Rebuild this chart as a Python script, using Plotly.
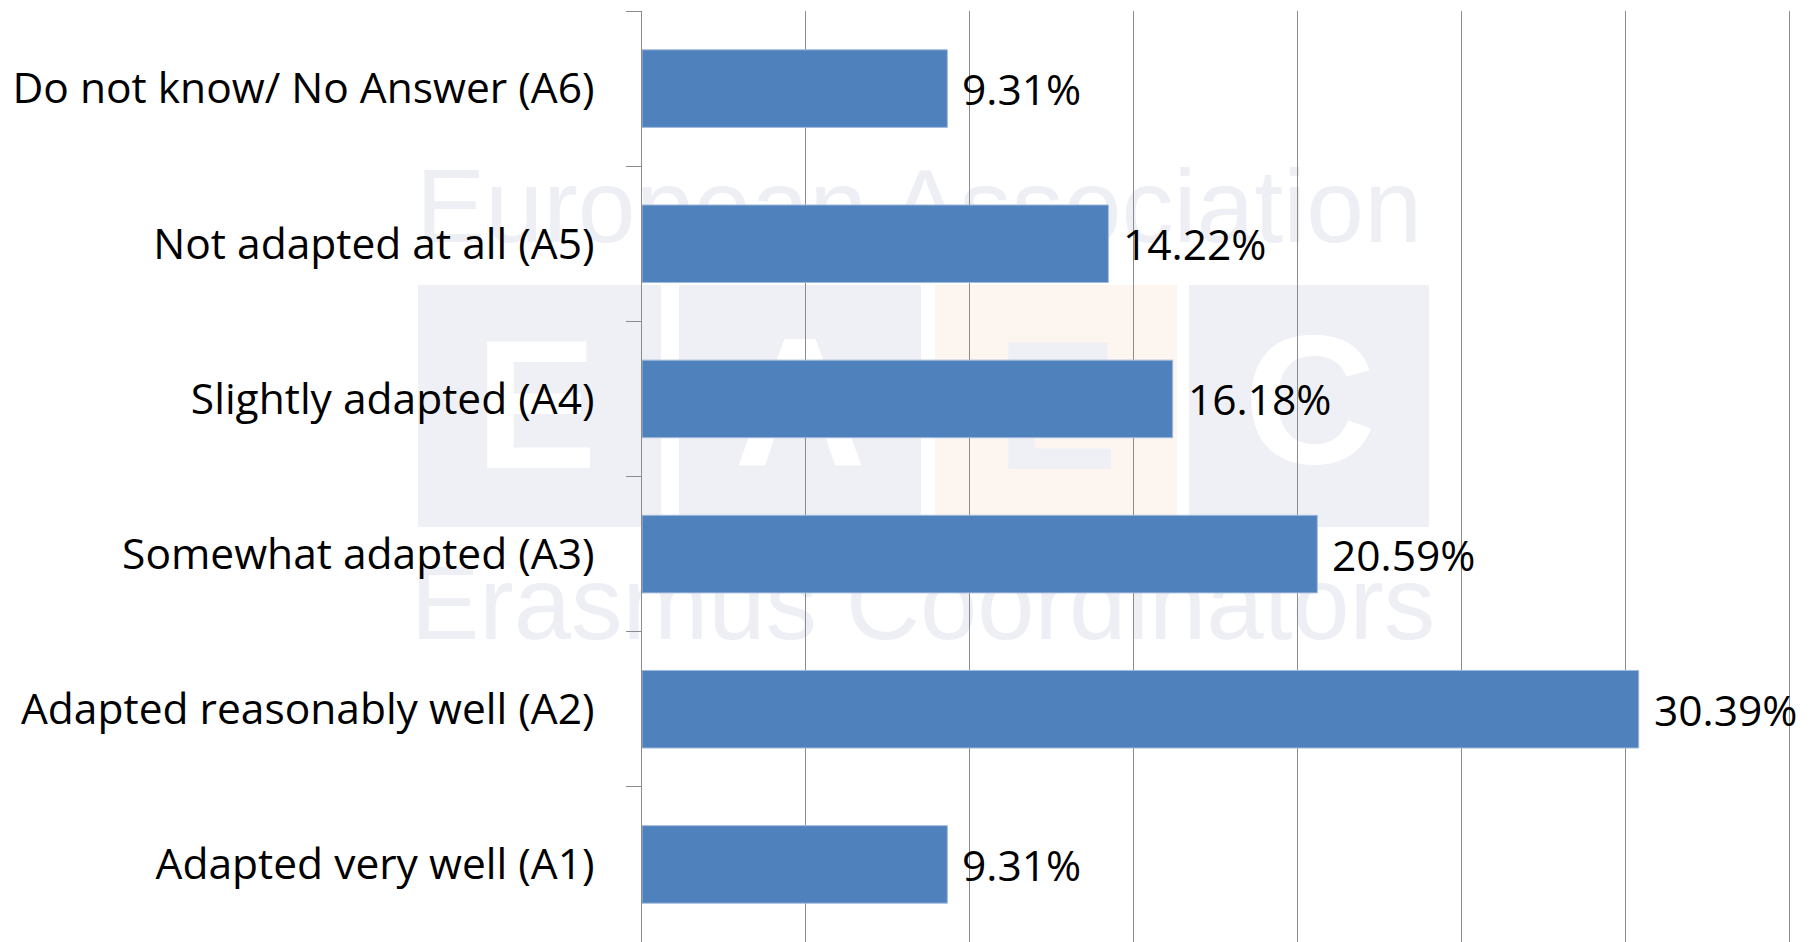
import plotly.graph_objects as go

# ---------------- data ----------------
categories = [
    "Adapted very well (A1)",
    "Adapted reasonably well (A2)",
    "Somewhat adapted (A3)",
    "Slightly adapted (A4)",
    "Not adapted at all (A5)",
    "Do not know/ No Answer (A6)",
]
values = [9.31, 30.39, 20.59, 16.18, 14.22, 9.31]
value_labels = [f"{v:.2f}%" for v in values]

# ---------------- layout geometry ----------------
W, H = 1818, 942
OFF = 8  # default page body margin
L, R, T, B = 634, 0, 3, 8
PW, PH = W - L - R, H - T - B
X_MAX = 36.1


def px(x_page):
    return (x_page - OFF - L) / PW


def py(y_page):
    return 1 - (y_page - OFF - T) / PH


FONT = "Open Sans"
GRID = "#8c8c8c"
WM_GRAY = "#eff0f5"
WM_ORANGE = "#fdf5f0"
WM_TEXT = "#edeff5"

fig = go.Figure()
fig.add_trace(
    go.Bar(
        x=values,
        y=categories,
        orientation="h",
        width=0.5,
        marker=dict(color="#4F81BD", line=dict(color="#a3bbdc", width=1)),
        hoverinfo="x+y",
    )
)

annotations = []
for cat, v, lab in zip(categories, values, value_labels):
    annotations.append(
        dict(
            x=v, y=cat, xref="x", yref="y", text=lab, showarrow=False,
            xanchor="left", yanchor="middle", xshift=13,
            font=dict(family=FONT, size=42.5, color="#000000"),
        )
    )

shapes = []
# watermark logo blocks
blocks = [(418, 661, WM_GRAY), (679, 921, WM_GRAY), (935, 1177, WM_ORANGE), (1189, 1429, WM_GRAY)]
for x0, x1, fill in blocks:
    shapes.append(
        dict(
            type="rect", xref="paper", yref="paper", layer="below",
            x0=px(x0), x1=px(x1), y0=py(527), y1=py(285),
            fillcolor=fill, line=dict(width=0),
        )
    )


def wm_label(text, cx, cap_center, size, color, bold=False, half_w=600):
    c = cap_center - 0.11 * size
    h = size * 0.6
    return dict(
        type="rect", xref="paper", yref="paper", layer="below",
        x0=px(cx - half_w), x1=px(cx + half_w), y0=py(c + h), y1=py(c - h),
        fillcolor="rgba(0,0,0,0)", line=dict(width=0),
        label=dict(text=text, textposition="middle center",
                   font=dict(family="Liberation Sans", size=size, color=color,
                             weight="bold" if bold else "normal")),
    )


# logo letters
for letter, cx, cy, col in [("E", 536, 408, "#ffffff"), ("A", 800, 405, "#ffffff"),
                            ("E", 1057, 409, WM_GRAY), ("C", 1310, 403, "#ffffff")]:
    shapes.append(wm_label(letter, cx, cy, 183, col, bold=True, half_w=120))

# watermark text lines
shapes.append(wm_label("European Association", 919, 207.5, 104, WM_TEXT))
shapes.append(wm_label("Erasmus Coordinators", 923, 604.5, 103, WM_TEXT))

fig.update_layout(
    width=W, height=H,
    margin=dict(l=L, r=R, t=T, b=B, pad=0),
    paper_bgcolor="#ffffff",
    plot_bgcolor="rgba(0,0,0,0)",
    showlegend=False,
    annotations=annotations,
    shapes=shapes,
    xaxis=dict(
        range=[0, X_MAX], tick0=0, dtick=5, showgrid=True, gridcolor=GRID,
        gridwidth=1, showticklabels=False, zeroline=False, showline=False,
        ticks="", fixedrange=True,
    ),
    yaxis=dict(
        type="category", categoryorder="array", categoryarray=categories,
        range=[-0.5, 5.5], tickson="boundaries", ticks="outside", ticklen=15,
        tickcolor=GRID, tickwidth=1, showline=True, linecolor=GRID, linewidth=1,
        showgrid=False, zeroline=False,
        tickfont=dict(family=FONT, size=42.5, color="#000000"),
        ticklabelstandoff=38, fixedrange=True,
    ),
)

fig.write_html("out.html")
